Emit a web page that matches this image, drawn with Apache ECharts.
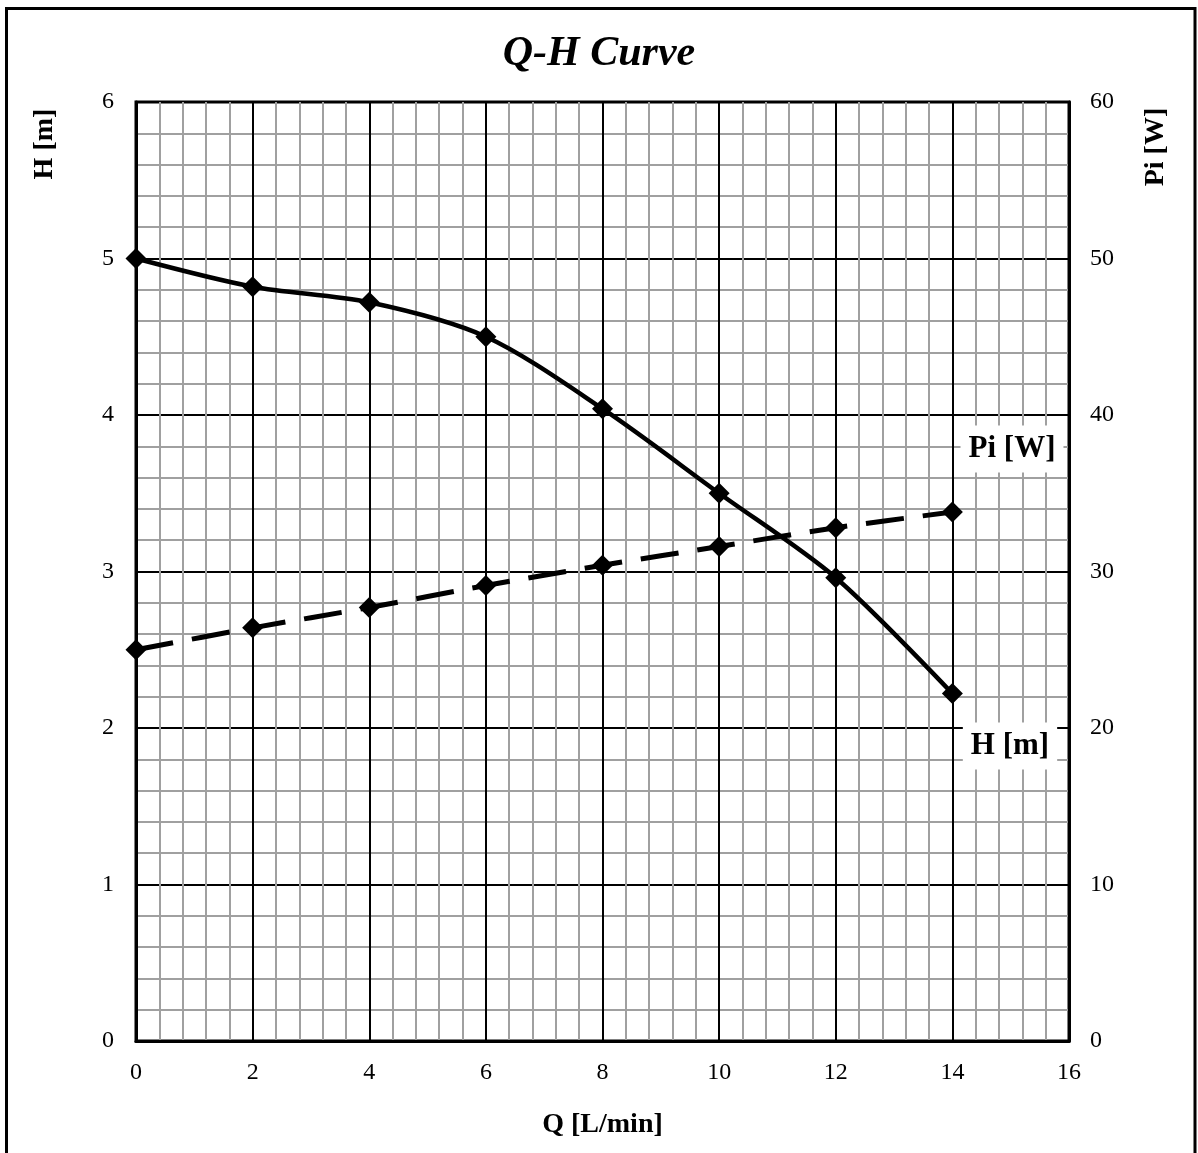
<!DOCTYPE html>
<html>
<head>
<meta charset="utf-8">
<title>Q-H Curve</title>
<script src="https://cdn.jsdelivr.net/npm/echarts@6/dist/echarts.min.js"></script>
<style>
  html, body { margin: 0; padding: 0; background: #fff; }
  #main { width: 1198px; height: 1153px; }
</style>
</head>
<body>
<div id="main"></div>
<script>
// 流量 Q [L/min]
var flowQ = [0, 2, 4, 6, 8, 10, 12, 14];
// 扬程 H [m]
var headH = [5.0, 4.82, 4.72, 4.5, 4.04, 3.5, 2.96, 2.22];
// 输入功率 Pi [W]
var powerPi = [25.0, 26.4, 27.7, 29.1, 30.4, 31.6, 32.8, 33.8];

var serif = '"Liberation Serif", "Times New Roman", serif';

function pairs(xs, ys) {
    return xs.map(function (x, i) { return [x, ys[i]]; });
}

var chart = echarts.init(document.getElementById('main'));
var option = {
    animation: false,
    backgroundColor: '#fff',
    title: {
        text: 'Q-H Curve',
        left: 'center',
        top: 28,
        textStyle: {
            fontFamily: serif,
            fontSize: 42,
            fontWeight: 'bold',
            fontStyle: 'italic',
            color: '#000'
        }
    },
    grid: {
        left: 136,
        right: 129,
        top: 102,
        bottom: 112,
        show: true,
        borderColor: '#000',
        borderWidth: 3
    },
    xAxis: {
        type: 'value',
        min: 0,
        max: 16,
        interval: 2,
        name: 'Q [L/min]',
        nameLocation: 'middle',
        nameGap: 70,
        nameTextStyle: { fontFamily: serif, fontSize: 28, fontWeight: 'bold', color: '#000' },
        axisLine: { lineStyle: { color: '#000', width: 3 } },
        axisTick: { show: false },
        axisLabel: { fontFamily: serif, fontSize: 24, color: '#000', margin: 20 },
        splitLine: { show: true, lineStyle: { color: '#000', width: 2 } },
        minorTick: { show: false, splitNumber: 5 },
        minorSplitLine: { show: true, lineStyle: { color: '#a0a0a0', width: 2 } }
    },
    yAxis: [{
        type: 'value',
        min: 0,
        max: 6,
        interval: 1,
        axisLine: { show: true, lineStyle: { color: '#000', width: 3 } },
        axisTick: { show: false },
        axisLabel: { fontFamily: serif, fontSize: 24, color: '#000', margin: 22 },
        splitLine: { show: true, lineStyle: { color: '#000', width: 2 } },
        minorTick: { show: false, splitNumber: 5 },
        minorSplitLine: { show: true, lineStyle: { color: '#a0a0a0', width: 2 } }
    }, {
        type: 'value',
        min: 0,
        max: 60,
        interval: 10,
        position: 'right',
        axisLine: { show: true, lineStyle: { color: '#000', width: 3 } },
        axisTick: { show: false },
        axisLabel: { fontFamily: serif, fontSize: 24, color: '#000', margin: 21 },
        splitLine: { show: false }
    }],
    series: [{
        name: 'H [m]',
        type: 'line',
        yAxisIndex: 0,
        data: pairs(flowQ, headH),
        smooth: 0.3,
        symbol: 'diamond',
        symbolSize: 21,
        itemStyle: { color: '#000' },
        lineStyle: { color: '#000', width: 4.5 },
        z: 5
    }, {
        name: 'Pi [W]',
        type: 'line',
        yAxisIndex: 1,
        data: pairs(flowQ, powerPi),
        smooth: 0.3,
        symbol: 'diamond',
        symbolSize: 21,
        itemStyle: { color: '#000' },
        lineStyle: { color: '#000', width: 5, type: [38, 19] },
        z: 5
    }],
    graphic: [{
        // 外框
        type: 'rect',
        shape: { x: 6.5, y: 8.5, width: 1188.5, height: 1160 },
        style: { fill: 'none', stroke: '#000', lineWidth: 3 },
        silent: true
    }, {
        type: 'text',
        x: 45, y: 144,
        rotation: Math.PI / 2,
        style: {
            text: 'H [m]', fontFamily: serif, fontSize: 28, fontWeight: 'bold',
            fill: '#000', align: 'center', verticalAlign: 'middle'
        }
    }, {
        type: 'text',
        x: 1156, y: 147,
        rotation: Math.PI / 2,
        style: {
            text: 'Pi [W]', fontFamily: serif, fontSize: 28, fontWeight: 'bold',
            fill: '#000', align: 'center', verticalAlign: 'middle'
        }
    }, {
        // 曲线标签
        type: 'text',
        x: 1012, y: 449,
        z: 10,
        style: {
            text: 'Pi [W]', fontFamily: serif, fontSize: 31, fontWeight: 'bold',
            fill: '#000', align: 'center', verticalAlign: 'middle',
            backgroundColor: '#fff', padding: [8, 8, 8, 8]
        }
    }, {
        type: 'text',
        x: 1010, y: 746,
        z: 10,
        style: {
            text: 'H [m]', fontFamily: serif, fontSize: 31, fontWeight: 'bold',
            fill: '#000', align: 'center', verticalAlign: 'middle',
            backgroundColor: '#fff', padding: [8, 8, 8, 8]
        }
    }]
};
chart.setOption(option);
</script>
</body>
</html>
